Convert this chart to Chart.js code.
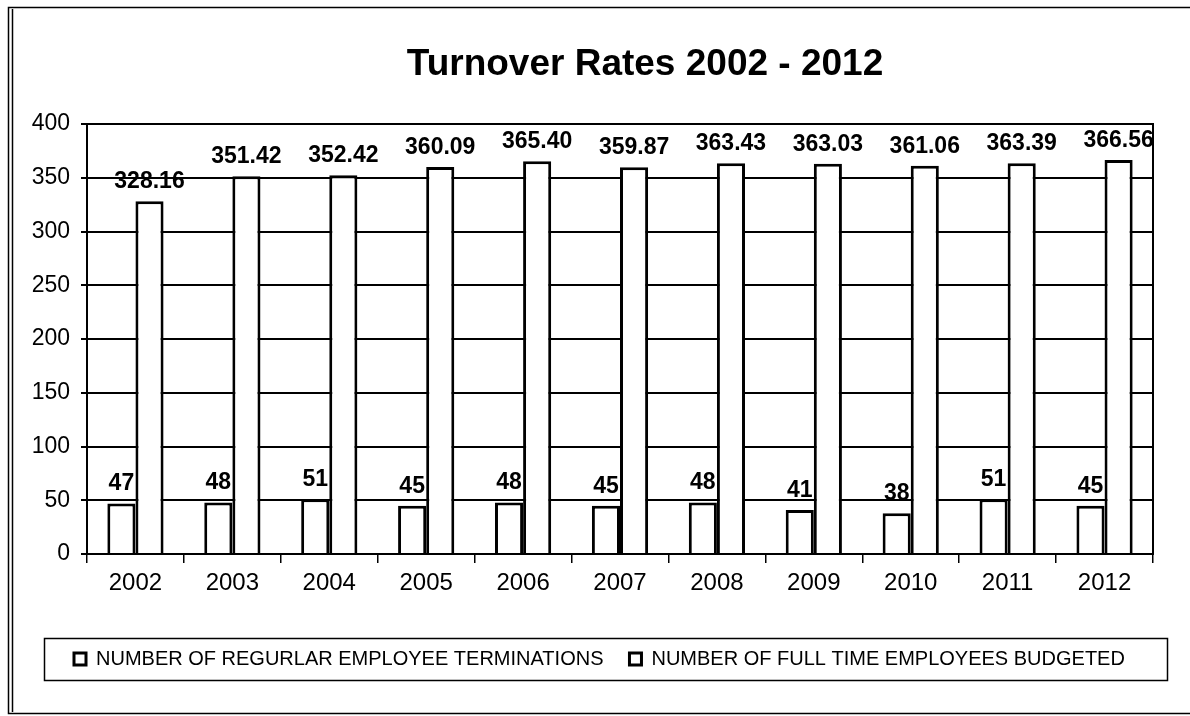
<!DOCTYPE html>
<html>
<head>
<meta charset="utf-8">
<title>Turnover Rates 2002 - 2012</title>
<script src="https://cdn.jsdelivr.net/npm/chart.js@4/dist/chart.umd.min.js"></script>
<style>
    body { margin: 0; background: #fff; }
    canvas { display: block; }
</style>
</head>
<body>
<canvas id="chart1" width="1190" height="716"></canvas>
<script>
const years = ['2002', '2003', '2004', '2005', '2006', '2007', '2008', '2009', '2010', '2011', '2012'];
const terminations = [47, 48, 51, 45, 48, 45, 48, 41, 38, 51, 45];
const budgeted = [328.16, 351.42, 352.42, 360.09, 365.40, 359.87, 363.43, 363.03, 361.06, 363.39, 366.56];
const yTicks = [0, 50, 100, 150, 200, 250, 300, 350, 400];

const titleText = 'Turnover Rates 2002 - 2012';
const seriesNames = [
    'NUMBER OF REGURLAR EMPLOYEE TERMINATIONS',
    'NUMBER OF FULL TIME EMPLOYEES BUDGETED'
];

const FONT = '"Liberation Sans", Arial, Helvetica, sans-serif';

// Outer frame, plot border, title and legend box
const decorPlugin = {
    id: 'decor',
    afterLayout(chart) {
        // y labels are clipped to the axis box, so let it reach the left margin
        chart.scales.y.left = 0;
    },
    afterDraw(chart) {
        const ctx = chart.ctx;
        const a = chart.chartArea;
        ctx.save();
        ctx.strokeStyle = '#000';

        // frame round the whole chart (runs off the right edge)
        ctx.lineWidth = 1.5;
        ctx.beginPath();
        ctx.moveTo(1200, 7.5);
        ctx.lineTo(8.5, 7.5);
        ctx.lineTo(8.5, 713.5);
        ctx.lineTo(1200, 713.5);
        ctx.moveTo(12.5, 9);
        ctx.lineTo(12.5, 712);
        ctx.stroke();

        // plot area border
        ctx.lineWidth = 2;
        ctx.strokeRect(a.left, a.top, a.right - a.left, a.bottom - a.top);

        // title
        ctx.fillStyle = '#000';
        ctx.font = 'bold 37px ' + FONT;
        ctx.textAlign = 'center';
        ctx.textBaseline = 'alphabetic';
        ctx.fillText(titleText, 645, 75);

        // legend border
        const lg = chart.legend;
        if (lg && lg.legendHitBoxes.length) {
            const hb = lg.legendHitBoxes[0];
            const cy = hb.top + hb.height / 2;
            ctx.lineWidth = 1.5;
            ctx.strokeRect(44.5, Math.round(cy - 21) + 0.5, 1123, 42);
        }
        ctx.restore();
    }
};

// Value labels above each bar
const valueLabels = {
    id: 'valueLabels',
    afterDatasetsDraw(chart) {
        const ctx = chart.ctx;
        ctx.save();
        ctx.fillStyle = '#000';
        ctx.font = 'bold 23px ' + FONT;
        ctx.textAlign = 'center';
        ctx.textBaseline = 'alphabetic';
        chart.data.datasets.forEach((ds, i) => {
            const meta = chart.getDatasetMeta(i);
            meta.data.forEach((bar, j) => {
                const v = ds.data[j];
                const txt = i === 1 ? v.toFixed(2) : String(v);
                ctx.fillText(txt, bar.x, bar.y - 13);
            });
        });
        ctx.restore();
    }
};

const ctx = document.getElementById('chart1').getContext('2d');
window.chart1 = new Chart(ctx, {
    type: 'bar',
    data: {
        labels: years,
        datasets: [{
            label: seriesNames[0],
            data: terminations,
            backgroundColor: '#fff',
            borderColor: '#000',
            borderWidth: 3,
            categoryPercentage: 0.58,
            barPercentage: 1
        }, {
            label: seriesNames[1],
            data: budgeted,
            backgroundColor: '#fff',
            borderColor: '#000',
            borderWidth: 3,
            categoryPercentage: 0.58,
            barPercentage: 1
        }]
    },
    options: {
        responsive: false,
        animation: false,
        devicePixelRatio: 1,
        layout: {
            padding: { top: 124, left: 48, right: 37, bottom: 37 }
        },
        plugins: {
            title: { display: false },
            tooltip: { enabled: false },
            legend: {
                position: 'bottom',
                align: 'start',
                labels: {
                    color: '#000',
                    font: { family: FONT, size: 20 },
                    boxWidth: 12,
                    boxHeight: 12,
                    padding: 26
                }
            }
        },
        scales: {
            x: {
                grid: {
                    drawOnChartArea: false,
                    color: '#000',
                    lineWidth: 1.5,
                    tickLength: 9,
                    offset: true
                },
                border: { color: '#000', width: 2 },
                ticks: {
                    color: '#000',
                    font: { family: FONT, size: 24 },
                    padding: 6,
                    maxRotation: 0
                },
                afterFit(scale) { scale.height = 69; }
            },
            y: {
                min: 0,
                max: 400,
                afterBuildTicks(scale) {
                    scale.ticks = yTicks.map(v => ({ value: v }));
                },
                grid: {
                    color: '#000',
                    lineWidth: 2,
                    tickLength: 6
                },
                border: { color: '#000', width: 2 },
                ticks: {
                    color: '#000',
                    font: { family: FONT, size: 23 },
                    padding: 11
                },
                afterFit(scale) { scale.width = 39; }
            }
        }
    },
    plugins: [valueLabels, decorPlugin]
});
</script>
</body>
</html>
